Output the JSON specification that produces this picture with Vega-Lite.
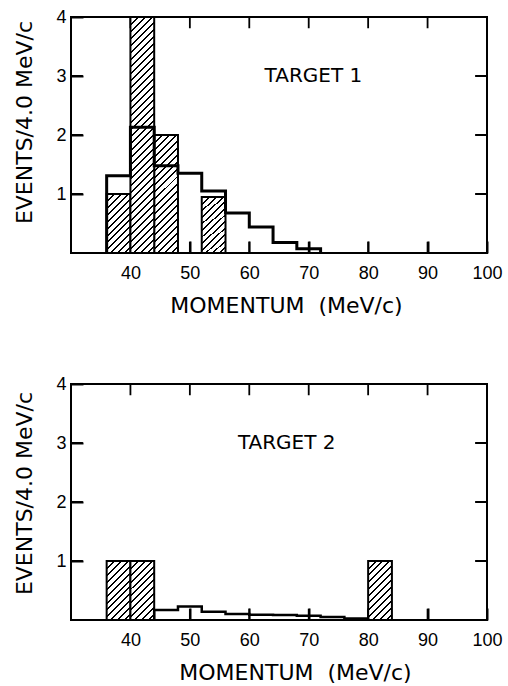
{
"$schema": "https://vega.github.io/schema/vega-lite/v6.json",
"background": "white",
"padding": {"left": 12, "top": 7, "right": 5, "bottom": 5},
"spacing": 56,
"config": {
  "view": {"stroke": "black", "strokeWidth": 2},
  "axis": {"domain": false, "grid": false, "zindex": 1, "offset": -12, "ticks": true, "tickColor": "black", "tickWidth": 2, "tickSize": 12, "labelColor": "black", "labelFont": "Liberation Sans", "labelFontSize": 18, "labelFlush": false, "titleColor": "black", "titleFont": "DejaVu Sans", "titleFontSize": 22, "titleFontWeight": "normal"},
  "axisX": {"labelPadding": 11.5, "titlePadding": 13},
  "axisY": {"labelPadding": 5, "titlePadding": 19}
},
"datasets": {
  "tx": [{"v":40},{"v":50},{"v":60},{"v":70},{"v":80},{"v":90}],
  "ty": [{"v":1},{"v":2},{"v":3}],
  "bars1": [{"lo":36,"hi":40,"n":1},{"lo":40,"hi":44,"n":4},{"lo":44,"hi":48,"n":2},{"lo":52,"hi":56,"n":0.95}],
  "line1": [{"i":0,"x":36,"y":0},{"i":1,"x":36,"y":1.31},{"i":2,"x":40,"y":2.13},{"i":3,"x":44,"y":1.48},{"i":4,"x":48,"y":1.35},{"i":5,"x":52,"y":1.05},{"i":6,"x":56,"y":0.68},{"i":7,"x":60,"y":0.44},{"i":8,"x":64,"y":0.18},{"i":9,"x":68,"y":0.07},{"i":10,"x":72,"y":0}],
  "lab1": [{"x":70.8,"y":3,"label":"TARGET  1"}],
  "bars2": [{"lo":36,"hi":40,"n":1},{"lo":40,"hi":44,"n":1},{"lo":80,"hi":84,"n":1}],
  "line2": [{"i":0,"x":44,"y":0},{"i":1,"x":44,"y":0.17},{"i":2,"x":48,"y":0.23},{"i":3,"x":52,"y":0.14},{"i":4,"x":56,"y":0.1},{"i":5,"x":60,"y":0.09},{"i":6,"x":64,"y":0.085},{"i":7,"x":68,"y":0.07},{"i":8,"x":72,"y":0.05},{"i":9,"x":76,"y":0.025},{"i":10,"x":80,"y":0}],
  "lab2": [{"x":66.3,"y":3,"label":"TARGET  2"}]
},
"vconcat": [
 {
  "width": 416, "height": 236,
  "layer": [
   {"data": {"name": "tx"}, "mark": {"type": "rect", "fill": "black", "stroke": "black", "strokeWidth": 1.8},
    "encoding": {"x": {"field": "v", "type": "quantitative", "scale": {"domain": [30,100], "nice": false, "zero": false}, "axis": null}, "x2": {"field": "v"}, "y": {"datum": 0, "type": "quantitative", "scale": {"domain": [0,4], "nice": false}, "axis": null}, "y2": {"datum": 0.19}}},
   {"data": {"name": "tx"}, "mark": {"type": "rect", "fill": "black", "stroke": "black", "strokeWidth": 1.8},
    "encoding": {"x": {"field": "v", "type": "quantitative", "axis": null}, "x2": {"field": "v"}, "y": {"datum": 4, "type": "quantitative", "axis": null}, "y2": {"datum": 3.81}}},
   {"data": {"name": "ty"}, "mark": {"type": "rect", "fill": "black", "stroke": "black", "strokeWidth": 1.8},
    "encoding": {"y": {"field": "v", "type": "quantitative", "axis": null}, "y2": {"field": "v"}, "x": {"datum": 30, "type": "quantitative", "axis": null}, "x2": {"datum": 32}}},
   {"data": {"name": "ty"}, "mark": {"type": "rect", "fill": "black", "stroke": "black", "strokeWidth": 1.8},
    "encoding": {"y": {"field": "v", "type": "quantitative", "axis": null}, "y2": {"field": "v"}, "x": {"datum": 100, "type": "quantitative", "axis": null}, "x2": {"datum": 98}}},
   {"data": {"name": "bars1"}, "transform": [{"filter": "datum.n < 1.5"}],
    "mark": {"type": "rect", "stroke": "black", "strokeWidth": 2, "fill": {"gradient": "linear", "x1": 0, "y1": 0, "x2": 0.486, "y2": 1.207, "stops": [
      {"offset":0,"color":"black"},{"offset":0.024,"color":"black"},{"offset":0.024,"color":"white"},
      {"offset":0.0833,"color":"white"},{"offset":0.0833,"color":"black"},{"offset":0.1073,"color":"black"},{"offset":0.1073,"color":"white"},
      {"offset":0.1667,"color":"white"},{"offset":0.1667,"color":"black"},{"offset":0.1907,"color":"black"},{"offset":0.1907,"color":"white"},
      {"offset":0.25,"color":"white"},{"offset":0.25,"color":"black"},{"offset":0.274,"color":"black"},{"offset":0.274,"color":"white"},
      {"offset":0.3333,"color":"white"},{"offset":0.3333,"color":"black"},{"offset":0.3573,"color":"black"},{"offset":0.3573,"color":"white"},
      {"offset":0.4167,"color":"white"},{"offset":0.4167,"color":"black"},{"offset":0.4407,"color":"black"},{"offset":0.4407,"color":"white"},
      {"offset":0.5,"color":"white"},{"offset":0.5,"color":"black"},{"offset":0.524,"color":"black"},{"offset":0.524,"color":"white"},
      {"offset":0.5833,"color":"white"},{"offset":0.5833,"color":"black"},{"offset":0.6073,"color":"black"},{"offset":0.6073,"color":"white"},
      {"offset":0.6667,"color":"white"},{"offset":0.6667,"color":"black"},{"offset":0.6907,"color":"black"},{"offset":0.6907,"color":"white"},
      {"offset":0.75,"color":"white"},{"offset":0.75,"color":"black"},{"offset":0.774,"color":"black"},{"offset":0.774,"color":"white"},
      {"offset":0.8333,"color":"white"},{"offset":0.8333,"color":"black"},{"offset":0.8573,"color":"black"},{"offset":0.8573,"color":"white"},
      {"offset":0.9167,"color":"white"},{"offset":0.9167,"color":"black"},{"offset":0.9407,"color":"black"},{"offset":0.9407,"color":"white"},
      {"offset":1,"color":"white"}]}},
    "encoding": {
      "x": {"field": "lo", "type": "quantitative", "scale": {"domain": [30,100], "nice": false, "zero": false}, "axis": {"values": [40,50,60,70,80,90,100], "title": "MOMENTUM\u00a0\u00a0(MeV/c)", "titleX": 215}},
      "x2": {"field": "hi"},
      "y": {"field": "n", "type": "quantitative", "scale": {"domain": [0,4], "nice": false}, "axis": {"values": [1,2,3,4], "title": "EVENTS/4.0 MeV/c", "titleY": 105}},
      "y2": {"datum": 0}
    }},
   {"data": {"name": "bars1"}, "transform": [{"filter": "datum.n >= 1.5 && datum.n < 3"}],
    "mark": {"type": "rect", "stroke": "black", "strokeWidth": 2, "fill": {"gradient": "linear", "x1": 0, "y1": 0, "x2": 0.2325, "y2": 1.1546, "stops": [
      {"offset":0,"color":"black"},{"offset":0.014,"color":"black"},{"offset":0.014,"color":"white"},
      {"offset":0.05,"color":"white"},{"offset":0.05,"color":"black"},{"offset":0.064,"color":"black"},{"offset":0.064,"color":"white"},
      {"offset":0.1,"color":"white"},{"offset":0.1,"color":"black"},{"offset":0.114,"color":"black"},{"offset":0.114,"color":"white"},
      {"offset":0.15,"color":"white"},{"offset":0.15,"color":"black"},{"offset":0.164,"color":"black"},{"offset":0.164,"color":"white"},
      {"offset":0.2,"color":"white"},{"offset":0.2,"color":"black"},{"offset":0.214,"color":"black"},{"offset":0.214,"color":"white"},
      {"offset":0.25,"color":"white"},{"offset":0.25,"color":"black"},{"offset":0.264,"color":"black"},{"offset":0.264,"color":"white"},
      {"offset":0.3,"color":"white"},{"offset":0.3,"color":"black"},{"offset":0.314,"color":"black"},{"offset":0.314,"color":"white"},
      {"offset":0.35,"color":"white"},{"offset":0.35,"color":"black"},{"offset":0.364,"color":"black"},{"offset":0.364,"color":"white"},
      {"offset":0.4,"color":"white"},{"offset":0.4,"color":"black"},{"offset":0.414,"color":"black"},{"offset":0.414,"color":"white"},
      {"offset":0.45,"color":"white"},{"offset":0.45,"color":"black"},{"offset":0.464,"color":"black"},{"offset":0.464,"color":"white"},
      {"offset":0.5,"color":"white"},{"offset":0.5,"color":"black"},{"offset":0.514,"color":"black"},{"offset":0.514,"color":"white"},
      {"offset":0.55,"color":"white"},{"offset":0.55,"color":"black"},{"offset":0.564,"color":"black"},{"offset":0.564,"color":"white"},
      {"offset":0.6,"color":"white"},{"offset":0.6,"color":"black"},{"offset":0.614,"color":"black"},{"offset":0.614,"color":"white"},
      {"offset":0.65,"color":"white"},{"offset":0.65,"color":"black"},{"offset":0.664,"color":"black"},{"offset":0.664,"color":"white"},
      {"offset":0.7,"color":"white"},{"offset":0.7,"color":"black"},{"offset":0.714,"color":"black"},{"offset":0.714,"color":"white"},
      {"offset":0.75,"color":"white"},{"offset":0.75,"color":"black"},{"offset":0.764,"color":"black"},{"offset":0.764,"color":"white"},
      {"offset":0.8,"color":"white"},{"offset":0.8,"color":"black"},{"offset":0.814,"color":"black"},{"offset":0.814,"color":"white"},
      {"offset":0.85,"color":"white"},{"offset":0.85,"color":"black"},{"offset":0.864,"color":"black"},{"offset":0.864,"color":"white"},
      {"offset":0.9,"color":"white"},{"offset":0.9,"color":"black"},{"offset":0.914,"color":"black"},{"offset":0.914,"color":"white"},
      {"offset":0.95,"color":"white"},{"offset":0.95,"color":"black"},{"offset":0.964,"color":"black"},{"offset":0.964,"color":"white"},
      {"offset":1,"color":"white"}]}},
    "encoding": {
      "x": {"field": "lo", "type": "quantitative", "axis": null},
      "x2": {"field": "hi"},
      "y": {"field": "n", "type": "quantitative", "axis": null},
      "y2": {"datum": 0}
    }},
   {"data": {"name": "bars1"}, "transform": [{"filter": "datum.n >= 3"}],
    "mark": {"type": "rect", "stroke": "black", "strokeWidth": 2, "fill": {"gradient": "linear", "x1": 0, "y1": 0, "x2": 0.1097, "y2": 1.0896, "stops": [
      {"offset":0,"color":"black"},{"offset":0.0075,"color":"black"},{"offset":0.0075,"color":"white"},
      {"offset":0.027,"color":"white"},{"offset":0.027,"color":"black"},{"offset":0.0345,"color":"black"},{"offset":0.0345,"color":"white"},
      {"offset":0.054,"color":"white"},{"offset":0.054,"color":"black"},{"offset":0.0615,"color":"black"},{"offset":0.0615,"color":"white"},
      {"offset":0.081,"color":"white"},{"offset":0.081,"color":"black"},{"offset":0.0885,"color":"black"},{"offset":0.0885,"color":"white"},
      {"offset":0.108,"color":"white"},{"offset":0.108,"color":"black"},{"offset":0.1155,"color":"black"},{"offset":0.1155,"color":"white"},
      {"offset":0.135,"color":"white"},{"offset":0.135,"color":"black"},{"offset":0.1425,"color":"black"},{"offset":0.1425,"color":"white"},
      {"offset":0.162,"color":"white"},{"offset":0.162,"color":"black"},{"offset":0.1695,"color":"black"},{"offset":0.1695,"color":"white"},
      {"offset":0.189,"color":"white"},{"offset":0.189,"color":"black"},{"offset":0.1965,"color":"black"},{"offset":0.1965,"color":"white"},
      {"offset":0.216,"color":"white"},{"offset":0.216,"color":"black"},{"offset":0.2235,"color":"black"},{"offset":0.2235,"color":"white"},
      {"offset":0.243,"color":"white"},{"offset":0.243,"color":"black"},{"offset":0.2505,"color":"black"},{"offset":0.2505,"color":"white"},
      {"offset":0.27,"color":"white"},{"offset":0.27,"color":"black"},{"offset":0.2775,"color":"black"},{"offset":0.2775,"color":"white"},
      {"offset":0.297,"color":"white"},{"offset":0.297,"color":"black"},{"offset":0.3045,"color":"black"},{"offset":0.3045,"color":"white"},
      {"offset":0.324,"color":"white"},{"offset":0.324,"color":"black"},{"offset":0.3315,"color":"black"},{"offset":0.3315,"color":"white"},
      {"offset":0.351,"color":"white"},{"offset":0.351,"color":"black"},{"offset":0.3585,"color":"black"},{"offset":0.3585,"color":"white"},
      {"offset":0.378,"color":"white"},{"offset":0.378,"color":"black"},{"offset":0.3855,"color":"black"},{"offset":0.3855,"color":"white"},
      {"offset":0.405,"color":"white"},{"offset":0.405,"color":"black"},{"offset":0.4125,"color":"black"},{"offset":0.4125,"color":"white"},
      {"offset":0.432,"color":"white"},{"offset":0.432,"color":"black"},{"offset":0.4395,"color":"black"},{"offset":0.4395,"color":"white"},
      {"offset":0.459,"color":"white"},{"offset":0.459,"color":"black"},{"offset":0.4665,"color":"black"},{"offset":0.4665,"color":"white"},
      {"offset":0.486,"color":"white"},{"offset":0.486,"color":"black"},{"offset":0.4935,"color":"black"},{"offset":0.4935,"color":"white"},
      {"offset":0.513,"color":"white"},{"offset":0.513,"color":"black"},{"offset":0.5205,"color":"black"},{"offset":0.5205,"color":"white"},
      {"offset":0.54,"color":"white"},{"offset":0.54,"color":"black"},{"offset":0.5475,"color":"black"},{"offset":0.5475,"color":"white"},
      {"offset":0.567,"color":"white"},{"offset":0.567,"color":"black"},{"offset":0.5745,"color":"black"},{"offset":0.5745,"color":"white"},
      {"offset":0.594,"color":"white"},{"offset":0.594,"color":"black"},{"offset":0.6015,"color":"black"},{"offset":0.6015,"color":"white"},
      {"offset":0.621,"color":"white"},{"offset":0.621,"color":"black"},{"offset":0.6285,"color":"black"},{"offset":0.6285,"color":"white"},
      {"offset":0.648,"color":"white"},{"offset":0.648,"color":"black"},{"offset":0.6555,"color":"black"},{"offset":0.6555,"color":"white"},
      {"offset":0.675,"color":"white"},{"offset":0.675,"color":"black"},{"offset":0.6825,"color":"black"},{"offset":0.6825,"color":"white"},
      {"offset":0.702,"color":"white"},{"offset":0.702,"color":"black"},{"offset":0.7095,"color":"black"},{"offset":0.7095,"color":"white"},
      {"offset":0.729,"color":"white"},{"offset":0.729,"color":"black"},{"offset":0.7365,"color":"black"},{"offset":0.7365,"color":"white"},
      {"offset":0.756,"color":"white"},{"offset":0.756,"color":"black"},{"offset":0.7635,"color":"black"},{"offset":0.7635,"color":"white"},
      {"offset":0.783,"color":"white"},{"offset":0.783,"color":"black"},{"offset":0.7905,"color":"black"},{"offset":0.7905,"color":"white"},
      {"offset":0.81,"color":"white"},{"offset":0.81,"color":"black"},{"offset":0.8175,"color":"black"},{"offset":0.8175,"color":"white"},
      {"offset":0.837,"color":"white"},{"offset":0.837,"color":"black"},{"offset":0.8445,"color":"black"},{"offset":0.8445,"color":"white"},
      {"offset":0.864,"color":"white"},{"offset":0.864,"color":"black"},{"offset":0.8715,"color":"black"},{"offset":0.8715,"color":"white"},
      {"offset":0.891,"color":"white"},{"offset":0.891,"color":"black"},{"offset":0.8985,"color":"black"},{"offset":0.8985,"color":"white"},
      {"offset":0.918,"color":"white"},{"offset":0.918,"color":"black"},{"offset":0.9255,"color":"black"},{"offset":0.9255,"color":"white"},
      {"offset":0.945,"color":"white"},{"offset":0.945,"color":"black"},{"offset":0.9525,"color":"black"},{"offset":0.9525,"color":"white"},
      {"offset":0.972,"color":"white"},{"offset":0.972,"color":"black"},{"offset":0.9795,"color":"black"},{"offset":0.9795,"color":"white"},
      {"offset":1,"color":"white"}]}},
    "encoding": {
      "x": {"field": "lo", "type": "quantitative", "axis": null},
      "x2": {"field": "hi"},
      "y": {"field": "n", "type": "quantitative", "axis": null},
      "y2": {"datum": 0}
    }},
   {"data": {"name": "line1"},
    "mark": {"type": "line", "interpolate": "step-after", "stroke": "black", "strokeWidth": 3, "strokeJoin": "miter"},
    "encoding": {
      "x": {"field": "x", "type": "quantitative", "axis": null},
      "y": {"field": "y", "type": "quantitative", "axis": null},
      "order": {"field": "i", "type": "quantitative"}
    }},
   {"data": {"name": "lab1"},
    "mark": {"type": "text", "font": "DejaVu Sans", "fontSize": 20, "align": "center", "baseline": "middle", "color": "black"},
    "encoding": {
      "x": {"field": "x", "type": "quantitative", "axis": null},
      "y": {"field": "y", "type": "quantitative", "axis": null},
      "text": {"field": "label"}
    }}
  ],
  "resolve": {"axis": {"x": "independent", "y": "independent"}}
 },
 {
  "width": 416, "height": 236,
  "layer": [
   {"data": {"name": "tx"}, "mark": {"type": "rect", "fill": "black", "stroke": "black", "strokeWidth": 1.8},
    "encoding": {"x": {"field": "v", "type": "quantitative", "scale": {"domain": [30,100], "nice": false, "zero": false}, "axis": null}, "x2": {"field": "v"}, "y": {"datum": 0, "type": "quantitative", "scale": {"domain": [0,4], "nice": false}, "axis": null}, "y2": {"datum": 0.19}}},
   {"data": {"name": "tx"}, "mark": {"type": "rect", "fill": "black", "stroke": "black", "strokeWidth": 1.8},
    "encoding": {"x": {"field": "v", "type": "quantitative", "axis": null}, "x2": {"field": "v"}, "y": {"datum": 4, "type": "quantitative", "axis": null}, "y2": {"datum": 3.81}}},
   {"data": {"name": "ty"}, "mark": {"type": "rect", "fill": "black", "stroke": "black", "strokeWidth": 1.8},
    "encoding": {"y": {"field": "v", "type": "quantitative", "axis": null}, "y2": {"field": "v"}, "x": {"datum": 30, "type": "quantitative", "axis": null}, "x2": {"datum": 32}}},
   {"data": {"name": "ty"}, "mark": {"type": "rect", "fill": "black", "stroke": "black", "strokeWidth": 1.8},
    "encoding": {"y": {"field": "v", "type": "quantitative", "axis": null}, "y2": {"field": "v"}, "x": {"datum": 100, "type": "quantitative", "axis": null}, "x2": {"datum": 98}}},
   {"data": {"name": "bars2"},
    "mark": {"type": "rect", "stroke": "black", "strokeWidth": 2, "fill": {"gradient": "linear", "x1": 0, "y1": 0, "x2": 0.486, "y2": 1.207, "stops": [
      {"offset":0,"color":"black"},{"offset":0.024,"color":"black"},{"offset":0.024,"color":"white"},
      {"offset":0.0833,"color":"white"},{"offset":0.0833,"color":"black"},{"offset":0.1073,"color":"black"},{"offset":0.1073,"color":"white"},
      {"offset":0.1667,"color":"white"},{"offset":0.1667,"color":"black"},{"offset":0.1907,"color":"black"},{"offset":0.1907,"color":"white"},
      {"offset":0.25,"color":"white"},{"offset":0.25,"color":"black"},{"offset":0.274,"color":"black"},{"offset":0.274,"color":"white"},
      {"offset":0.3333,"color":"white"},{"offset":0.3333,"color":"black"},{"offset":0.3573,"color":"black"},{"offset":0.3573,"color":"white"},
      {"offset":0.4167,"color":"white"},{"offset":0.4167,"color":"black"},{"offset":0.4407,"color":"black"},{"offset":0.4407,"color":"white"},
      {"offset":0.5,"color":"white"},{"offset":0.5,"color":"black"},{"offset":0.524,"color":"black"},{"offset":0.524,"color":"white"},
      {"offset":0.5833,"color":"white"},{"offset":0.5833,"color":"black"},{"offset":0.6073,"color":"black"},{"offset":0.6073,"color":"white"},
      {"offset":0.6667,"color":"white"},{"offset":0.6667,"color":"black"},{"offset":0.6907,"color":"black"},{"offset":0.6907,"color":"white"},
      {"offset":0.75,"color":"white"},{"offset":0.75,"color":"black"},{"offset":0.774,"color":"black"},{"offset":0.774,"color":"white"},
      {"offset":0.8333,"color":"white"},{"offset":0.8333,"color":"black"},{"offset":0.8573,"color":"black"},{"offset":0.8573,"color":"white"},
      {"offset":0.9167,"color":"white"},{"offset":0.9167,"color":"black"},{"offset":0.9407,"color":"black"},{"offset":0.9407,"color":"white"},
      {"offset":1,"color":"white"}]}},
    "encoding": {
      "x": {"field": "lo", "type": "quantitative", "scale": {"domain": [30,100], "nice": false, "zero": false}, "axis": {"values": [40,50,60,70,80,90,100], "title": "MOMENTUM\u00a0\u00a0(MeV/c)", "titleX": 224}},
      "x2": {"field": "hi"},
      "y": {"field": "n", "type": "quantitative", "scale": {"domain": [0,4], "nice": false}, "axis": {"values": [1,2,3,4], "title": "EVENTS/4.0 MeV/c", "titleY": 109}},
      "y2": {"datum": 0}
    }},
   {"data": {"name": "line2"},
    "mark": {"type": "line", "interpolate": "step-after", "stroke": "black", "strokeWidth": 2.5, "strokeJoin": "miter"},
    "encoding": {
      "x": {"field": "x", "type": "quantitative", "axis": null},
      "y": {"field": "y", "type": "quantitative", "axis": null},
      "order": {"field": "i", "type": "quantitative"}
    }},
   {"data": {"name": "lab2"},
    "mark": {"type": "text", "font": "DejaVu Sans", "fontSize": 20, "align": "center", "baseline": "middle", "color": "black"},
    "encoding": {
      "x": {"field": "x", "type": "quantitative", "axis": null},
      "y": {"field": "y", "type": "quantitative", "axis": null},
      "text": {"field": "label"}
    }}
  ],
  "resolve": {"axis": {"x": "independent", "y": "independent"}}
 }
]
}
